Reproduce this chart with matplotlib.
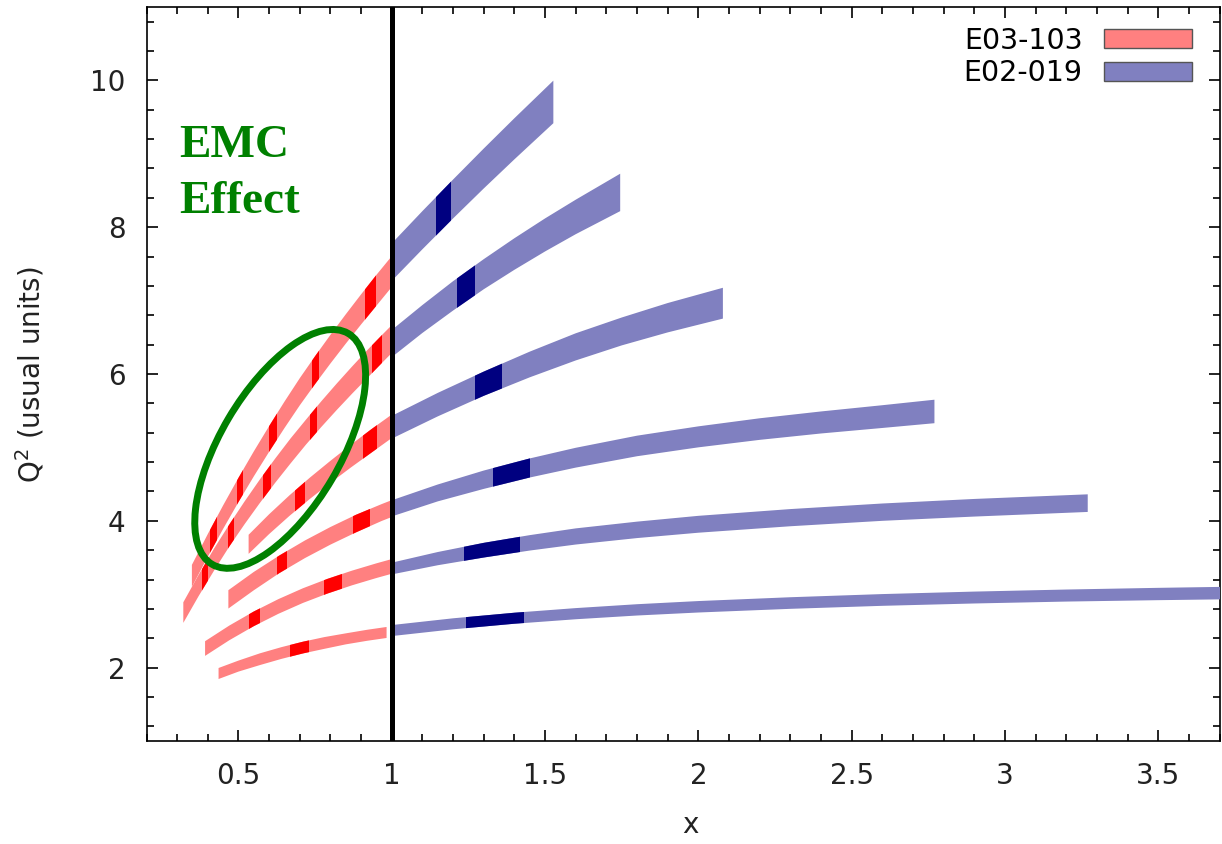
import numpy as np
import matplotlib
matplotlib.use("Agg")
import matplotlib.pyplot as plt
from matplotlib.patches import Patch, Ellipse, Polygon
from matplotlib.ticker import MultipleLocator, FuncFormatter
from matplotlib.transforms import ScaledTranslation

# E03-103 kinematic bands: x, centre Q^2, half width in Q^2
r_x = [
    [0.348, 0.40, 0.45, 0.50, 0.55, 0.60, 0.65, 0.70, 0.75, 0.80, 0.85, 0.90, 0.95, 1.0],
    [0.32, 0.37, 0.42, 0.47, 0.52, 0.57, 0.62, 0.67, 0.72, 0.77, 0.82, 0.87, 0.92, 0.97, 1.0],
    [0.533, 0.60, 0.667, 0.733, 0.80, 0.867, 0.933, 1.0],
    [0.467, 0.55, 0.633, 0.717, 0.80, 0.883, 0.967, 1.0],
    [0.391, 0.47, 0.55, 0.63, 0.71, 0.79, 0.87, 0.95, 1.0],
    [0.435, 0.50, 0.57, 0.64, 0.71, 0.78, 0.85, 0.92, 0.983],
]
r_q2 = [
    [3.25, 3.666, 4.051, 4.421, 4.776, 5.116, 5.444, 5.759, 6.054, 6.339, 6.614, 6.881, 7.141, 7.396],
    [2.75, 3.12, 3.47, 3.80, 4.11, 4.405, 4.685, 4.953, 5.208, 5.453, 5.688, 5.915, 6.135, 6.35, 6.476],
    [3.68, 3.955, 4.21, 4.444, 4.668, 4.883, 5.087, 5.288],
    [2.93, 3.179, 3.407, 3.613, 3.796, 3.962, 4.113, 4.167],
    [2.26, 2.473, 2.665, 2.833, 2.981, 3.109, 3.221, 3.321, 3.379],
    [1.92, 2.021, 2.115, 2.199, 2.273, 2.336, 2.392, 2.441, 2.479],
]
r_dq2 = [
    [0.15, 0.155, 0.16, 0.165, 0.17, 0.175, 0.18, 0.185, 0.19, 0.195, 0.20, 0.205, 0.21, 0.21],
    [0.14, 0.145, 0.15, 0.15, 0.155, 0.16, 0.165, 0.17, 0.17, 0.175, 0.18, 0.185, 0.19, 0.19, 0.19],
    [0.13, 0.135, 0.14, 0.145, 0.15, 0.155, 0.16, 0.16],
    [0.125, 0.125, 0.12, 0.12, 0.12, 0.12, 0.115, 0.115],
    [0.10, 0.10, 0.10, 0.10, 0.10, 0.10, 0.10, 0.10, 0.10],
    [0.075, 0.075, 0.08, 0.08, 0.08, 0.08, 0.075, 0.075, 0.075],
]
# x ranges of the highlighted settings on each band
r_dark = [
    [(0.407, 0.429), (0.496, 0.514), (0.600, 0.626), (0.739, 0.764), (0.913, 0.947)],
    [(0.380, 0.402), (0.467, 0.484), (0.580, 0.606), (0.733, 0.757), (0.936, 0.969)],
    [(0.684, 0.717), (0.907, 0.952)],
    [(0.625, 0.658), (0.875, 0.930)],
    [(0.533, 0.569), (0.778, 0.838)],
    [(0.669, 0.729)],
]

# E02-019 bands: x, centre Q^2, half width in Q^2
b_x = [
    [1.0, 1.1, 1.2, 1.3, 1.4, 1.527],
    [1.0, 1.1, 1.2, 1.3, 1.4, 1.5, 1.6, 1.745],
    [1.0, 1.15, 1.3, 1.45, 1.6, 1.75, 1.9, 2.08],
    [1.0, 1.15, 1.3, 1.45, 1.6, 1.8, 2.0, 2.2, 2.4, 2.6, 2.77],
    [1.0, 1.15, 1.3, 1.45, 1.6, 1.8, 2.0, 2.3, 2.6, 2.9, 3.27],
    [1.0, 1.2, 1.4, 1.6, 1.8, 2.0, 2.3, 2.6, 2.9, 3.2, 3.5, 3.72],
]
b_q2 = [
    [7.525, 7.96, 8.385, 8.80, 9.205, 9.707],
    [6.415, 6.75, 7.065, 7.36, 7.635, 7.895, 8.14, 8.474],
    [5.275, 5.583, 5.868, 6.13, 6.37, 6.58, 6.767, 6.965],
    [4.17, 4.38, 4.56, 4.72, 4.86, 5.02, 5.144, 5.25, 5.34, 5.42, 5.49],
    [3.35, 3.485, 3.60, 3.70, 3.787, 3.877, 3.953, 4.043, 4.118, 4.178, 4.241],
    [2.505, 2.597, 2.673, 2.735, 2.787, 2.829, 2.88, 2.922, 2.955, 2.982, 3.003, 3.016],
]
b_dq2 = [
    [0.255, 0.26, 0.265, 0.272, 0.28, 0.29],
    [0.185, 0.19, 0.20, 0.205, 0.215, 0.225, 0.235, 0.255],
    [0.155, 0.16, 0.165, 0.175, 0.185, 0.19, 0.20, 0.21],
    [0.11, 0.115, 0.125, 0.13, 0.135, 0.14, 0.143, 0.147, 0.15, 0.155, 0.16],
    [0.08, 0.09, 0.10, 0.105, 0.11, 0.112, 0.115, 0.117, 0.118, 0.12, 0.12],
    [0.075, 0.075, 0.075, 0.076, 0.077, 0.078, 0.079, 0.08, 0.081, 0.082, 0.084, 0.085],
]
b_dark = [
    [(1.143, 1.192)],
    [(1.214, 1.271)],
    [(1.271, 1.358)],
    [(1.331, 1.451)],
    [(1.237, 1.418)],
    [(1.243, 1.430)],
]

red_light, red_dark = "#ff8080", "#ff0000"
blue_light, blue_dark = "#8080c0", "#000080"

plt.rcParams["font.family"] = ["DejaVu Sans"]

fig = plt.figure(figsize=(12.22, 8.44), dpi=100)
ax = fig.add_axes([0.1199, 0.1220, 0.8781, 0.8697])


def draw_band(x, q2, dq2, light, dark, spans, z):
    x = np.asarray(x)
    lo = np.asarray(q2) - np.asarray(dq2)
    hi = np.asarray(q2) + np.asarray(dq2)
    verts = np.vstack([np.column_stack([x, hi]), np.column_stack([x[::-1], lo[::-1]])])
    band = Polygon(verts, closed=True, facecolor=light, edgecolor="none", zorder=z)
    ax.add_patch(band)
    for x0, x1 in spans:
        sp = ax.axvspan(x0, x1, color=dark, lw=0, zorder=z + 0.5)
        sp.set_clip_path(band)


for i in range(len(r_x)):
    draw_band(r_x[i], r_q2[i], r_dq2[i], red_light, red_dark, r_dark[i], 2 + 0.01 * (len(r_x) - i))

for i in range(len(b_x)):
    draw_band(b_x[i], b_q2[i], b_dq2[i], blue_light, blue_dark, b_dark[i], 3)

# x = 1 divider
ax.axvline(1.0, color="black", lw=3.6, zorder=5)

# ellipse around the EMC region, sized in inches so it is round on screen
ell = Ellipse((0, 0), 2.68, 1.20, angle=59.5, fill=False, edgecolor="green", lw=5.0,
              transform=fig.dpi_scale_trans + ScaledTranslation(0.636, 4.98, ax.transData),
              zorder=6)
ax.add_patch(ell)

ax.text(0.306, 8.96, "EMC", family="Liberation Serif", weight="bold", fontsize=34,
        color="green", va="baseline", ha="left", zorder=6)
ax.text(0.306, 8.19, "Effect", family="Liberation Serif", weight="bold", fontsize=34,
        color="green", va="baseline", ha="left", zorder=6)

ax.set_xlim(0.2, 3.7)
ax.set_ylim(1, 11)
ax.xaxis.set_major_locator(MultipleLocator(0.5))
ax.xaxis.set_minor_locator(MultipleLocator(0.1))
ax.yaxis.set_major_locator(MultipleLocator(2))
ax.yaxis.set_minor_locator(MultipleLocator(0.4))
ax.xaxis.set_major_formatter(FuncFormatter(lambda v, p: f"{v:g}"))
ax.tick_params(which="both", direction="in", top=True, right=True, width=1.2,
               labelsize=20, labelcolor="#222222", pad=15)
ax.tick_params(which="major", length=8)
ax.tick_params(which="minor", length=5)
for s in ax.spines.values():
    s.set_linewidth(1.2)

ax.set_xlabel("x", fontsize=20, color="#222222")
ax.set_ylabel(r"Q$^{\mathregular{2}}$ (usual units)", fontsize=20, color="#222222")
ax.xaxis.set_label_coords(0.5065, -0.096)
ax.yaxis.set_label_coords(-0.0932, 0.4986)

handles = [Patch(facecolor=red_light, edgecolor="#555555", lw=1.0),
           Patch(facecolor=blue_light, edgecolor="#555555", lw=1.0)]
ax.legend(handles, ["E03-103", "E02-019"], loc="upper right", bbox_to_anchor=(1.0, 1.0105),
          frameon=False, markerfirst=False, fontsize=20.5, handlelength=3.1, handleheight=0.65,
          labelspacing=0.17, handletextpad=0.75, borderaxespad=0.56)

fig.savefig("out.png", dpi=100)
